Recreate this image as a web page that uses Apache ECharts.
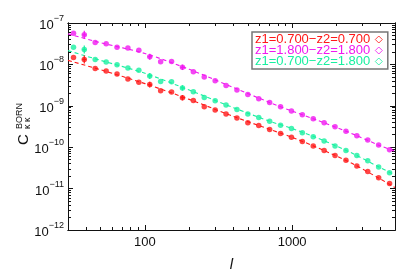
<!DOCTYPE html>
<html><head><meta charset="utf-8">
<script src="https://cdn.jsdelivr.net/npm/echarts@6/dist/echarts.min.js"></script>
<style>html,body{margin:0;padding:0;background:#fff}#c{width:415px;height:277px}</style>
</head><body><div id="c"></div>
<script>
// multipole centres (l)
const ells = [32.7, 38.7, 45.9, 54.5, 64.6, 76.6, 90.9, 107.8, 127.8, 151.6,
  179.8, 213.2, 252.9, 299.9, 355.6, 421.7, 500.1, 593.2, 703.5, 834.2,
  989.3, 1173, 1391, 1650, 1957, 2321, 2752, 3264, 3871, 4591];
// measured C_kk^BORN
const redPts = [1.47e-8, 1.32e-8, 7.94e-9, 6.93e-9, 5.87e-9, 4.47e-9, 3.73e-9, 3.25e-9, 2.31e-9, 2.15e-9,
  1.57e-9, 1.34e-9, 9.47e-10, 7.94e-10, 6.34e-10, 5.09e-10, 3.87e-10, 3.34e-10, 2.68e-10, 2.15e-10,
  1.73e-10, 1.37e-10, 1.07e-10, 8.34e-11, 6.34e-11, 4.82e-11, 3.53e-11, 2.58e-11, 1.83e-11, 1.32e-11];
const magentaPts = [5.69e-8, 5.18e-8, 3.40e-8, 3.16e-8, 2.58e-8, 2.50e-8, 2.19e-8, 1.53e-8, 1.16e-8, 1.18e-8,
  8.48e-9, 6.63e-9, 4.98e-9, 4.00e-9, 3.11e-9, 2.40e-9, 1.87e-9, 1.47e-9, 1.20e-9, 9.47e-10,
  7.48e-10, 6.11e-10, 4.90e-10, 3.87e-10, 3.11e-10, 2.44e-10, 1.90e-10, 1.49e-10, 1.13e-10, 8.62e-11];
const greenPts = [2.58e-8, 2.28e-8, 1.32e-8, 1.15e-8, 9.84e-9, 8.16e-9, 7.20e-9, 5.26e-9, 3.87e-9, 3.83e-9,
  2.71e-9, 2.19e-9, 1.58e-9, 1.32e-9, 1.04e-9, 8.16e-10, 6.31e-10, 5.24e-10, 4.23e-10, 3.40e-10,
  2.83e-10, 2.24e-10, 1.80e-10, 1.41e-10, 1.07e-10, 8.34e-11, 6.34e-11, 4.72e-11, 3.34e-11, 2.40e-11];
// visible error bars: point index and multiplicative half-width
const errIdx = [1, 7, 10];
const errFactor = [1.25, 1.18, 1.16];
// theory curves (dashed)
const modelElls = [30, 50, 100, 200, 400, 700, 1000, 1500, 2500, 4000, 5000];
const redModel = [1.25e-8, 7.40e-9, 3.43e-9, 1.43e-9, 5.53e-10, 2.71e-10, 1.73e-10, 9.62e-11, 4.21e-11, 1.68e-11, 1.06e-11];
const magentaModel = [5.47e-8, 3.34e-8, 1.83e-8, 7.60e-9, 2.76e-9, 1.21e-9, 7.44e-10, 4.40e-10, 2.19e-10, 1.07e-10, 8.03e-11];
const greenModel = [2.15e-8, 1.25e-8, 6.10e-9, 2.40e-9, 8.97e-10, 4.27e-10, 2.83e-10, 1.64e-10, 7.44e-11, 3.16e-11, 2.15e-11];
const seriesNames = ['z1=0.700\u2212z2=0.700', 'z1=1.800\u2212z2=1.800', 'z1=0.700\u2212z2=1.800'];
const seriesColors = ['#ff1818', '#f018f0', '#18f0a0'];
// ticks
const xMajor = [100, 1000];
const xMinor = [40, 50, 60, 70, 80, 90, 200, 300, 400, 500, 600, 700, 800, 900, 2000, 3000, 4000, 5000];
const yMajor = [1e-12, 1e-11, 1e-10, 1e-9, 1e-8, 1e-7];
const yMinor = [];
for (const d of [1e-12, 1e-11, 1e-10, 1e-9, 1e-8]) for (let k = 2; k <= 9; k++) yMinor.push(k * d);

const chart = echarts.init(document.getElementById('c'));
const FONT = 'Liberation Sans, Arial, Helvetica, sans-serif';
const line = {show: true, onZero: false, lineStyle: {color: '#111', width: 1}};
function xAx(pos, len, vals, extra) {
  return Object.assign({type: 'log', logBase: 10, min: 30, max: 5000, position: pos,
    axisLine: line, splitLine: {show: false},
    axisTick: {show: true, inside: true, length: len, customValues: vals, lineStyle: {color: '#111', width: 1}},
    axisLabel: {show: false}}, extra || {});
}
function yAx(pos, len, vals, extra) {
  return Object.assign({type: 'log', logBase: 10, min: 1e-12, max: 1e-7, position: pos,
    axisLine: line, splitLine: {show: false},
    axisTick: {show: true, inside: true, length: len, customValues: vals, lineStyle: {color: '#111', width: 1}},
    axisLabel: {show: false}}, extra || {});
}
const scat = (name, data, color) => ({
  name: name, type: 'scatter', xAxisIndex: 0, yAxisIndex: 0,
  data: ells.map((l, i) => [l, data[i]]), symbol: 'circle', symbolSize: 5.5,
  itemStyle: {color: color}, z: 3
});
const errs = (data, color) => ({
  name: 'err', type: 'custom', xAxisIndex: 0, yAxisIndex: 0, silent: true, z: 3,
  data: errIdx.map((k, j) => [ells[k], data[k] / errFactor[j], data[k] * errFactor[j]]),
  renderItem: (params, api) => {
    const a = api.coord([api.value(0), api.value(1)]);
    const b = api.coord([api.value(0), api.value(2)]);
    return {type: 'group', children: [
      {type: 'line', shape: {x1: a[0], y1: a[1], x2: b[0], y2: b[1]}, style: {stroke: color, lineWidth: 1.2}},
      {type: 'line', shape: {x1: a[0] - 2, y1: (a[1] + b[1]) / 2, x2: a[0] + 2, y2: (a[1] + b[1]) / 2}, style: {stroke: color, lineWidth: 1.2}}
    ]};
  }
});
const mod = (data, color) => ({
  name: 'model', type: 'line', xAxisIndex: 0, yAxisIndex: 0,
  data: modelElls.map((l, i) => [l, data[i]]), smooth: 0.3, showSymbol: false, symbol: 'none',
  lineStyle: {color: color, width: 1.1, type: [4, 3]}, z: 2, silent: true
});
chart.setOption({
  animation: false,
  backgroundColor: '#fff',
  grid: {left: 68, right: 20, top: 23, bottom: 44, containLabel: false},
  xAxis: [
    xAx('bottom', 5, xMajor, {axisLabel: {show: true, customValues: xMajor, formatter: v => String(Math.round(v)),
      fontSize: 13, color: '#111', fontFamily: FONT, margin: 6},
      name: 'l', nameLocation: 'middle', nameGap: 27,
      nameTextStyle: {fontStyle: 'italic', fontSize: 15, color: '#111', fontFamily: FONT}}),
    xAx('bottom', 3, xMinor),
    xAx('top', 5, xMajor),
    xAx('top', 3, xMinor)
  ],
  yAxis: [
    yAx('left', 5, yMajor, {axisLabel: {show: true, customValues: yMajor, margin: 4,
      formatter: v => '{b|10}{s|\u2212' + Math.round(-Math.log10(v)) + '}',
      rich: {b: {fontSize: 13, lineHeight: 18, verticalAlign: 'bottom', color: '#111', fontFamily: FONT},
             s: {fontSize: 9, lineHeight: 10, verticalAlign: 'top', color: '#111', fontFamily: FONT}}}}),
    yAx('left', 3, yMinor),
    yAx('right', 5, yMajor),
    yAx('right', 3, yMinor)
  ],
  legend: {
    show: true, orient: 'vertical', left: 252, top: 32, align: 'right',
    borderColor: '#777', borderWidth: 1.5, padding: [1, 5, 1, 3], itemGap: -2,
    itemWidth: 7, itemHeight: 7, backgroundColor: '#fff',
    textStyle: {fontSize: 13, fontFamily: FONT, lineHeight: 12},
    data: seriesNames.map((n, i) => ({name: n, icon: 'diamond',
      itemStyle: {color: 'rgba(0,0,0,0)', borderColor: seriesColors[i], borderWidth: 1},
      textStyle: {color: seriesColors[i]}}))
  },
  graphic: [
    {type: 'text', x: 31, y: 145, rotation: Math.PI / 2,
      style: {text: 'C', fontSize: 15, fontFamily: FONT, fill: '#111', align: 'left', verticalAlign: 'bottom'}},
    {type: 'text', x: 24, y: 129, rotation: Math.PI / 2,
      style: {text: 'BORN', fontSize: 9, fontFamily: FONT, fill: '#111', align: 'left', verticalAlign: 'bottom'}},
    {type: 'text', x: 32, y: 129, rotation: Math.PI / 2,
      style: {text: '\u03ba \u03ba', fontSize: 9, fontFamily: FONT, fill: '#111', align: 'left', verticalAlign: 'bottom'}}
  ],
  series: [
    mod(redModel, seriesColors[0]), mod(magentaModel, seriesColors[1]), mod(greenModel, seriesColors[2]),
    errs(redPts, seriesColors[0]), errs(magentaPts, seriesColors[1]), errs(greenPts, seriesColors[2]),
    scat(seriesNames[0], redPts, seriesColors[0]),
    scat(seriesNames[1], magentaPts, seriesColors[1]),
    scat(seriesNames[2], greenPts, seriesColors[2])
  ]
});
</script>
</body></html>
